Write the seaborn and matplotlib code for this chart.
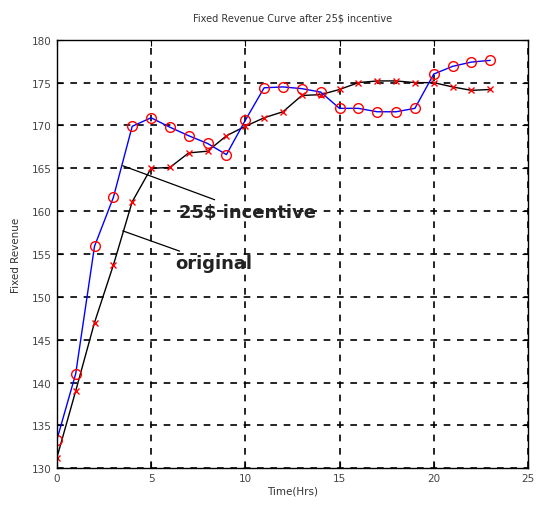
import matplotlib
matplotlib.use("Agg")
import matplotlib.pyplot as plt
import seaborn as sns
import pandas as pd

hours = list(range(24))
incentive = [133.3, 141.0, 155.9, 161.6, 169.9, 170.9, 169.8, 168.8, 167.9, 166.6,
             170.6, 174.4, 174.5, 174.3, 173.9, 172.0, 172.0, 171.6, 171.6, 172.0,
             176.0, 176.9, 177.4, 177.6]
original = [131.2, 139.0, 147.0, 153.7, 161.1, 165.0, 165.1, 166.8, 167.0, 168.8,
            169.9, 170.9, 171.6, 173.5, 173.6, 174.2, 175.0, 175.2, 175.2, 175.0,
            175.0, 174.5, 174.1, 174.2]
title = "Fixed Revenue Curve after 25$ incentive"
xlabel = "Time(Hrs)"
ylabel = "Fixed Revenue"
xticks = [0, 5, 10, 15, 20, 25]
yticks = [130, 135, 140, 145, 150, 155, 160, 165, 170, 175, 180]

df = pd.DataFrame({"hour": hours, "incentive": incentive, "original": original})

sns.set_style("white")
fig = plt.figure(figsize=(5.36, 5.10), dpi=100)
ax = fig.add_axes([0.106, 0.080, 0.879, 0.840])

sns.lineplot(data=df, x="hour", y="original", ax=ax, color="black", lw=1.0,
             marker="x", markersize=4, markeredgecolor="red", markeredgewidth=1.0)
sns.lineplot(data=df, x="hour", y="incentive", ax=ax, color="blue", lw=1.0,
             marker="o", markersize=7, markerfacecolor="none",
             markeredgecolor="red", markeredgewidth=1.0)

ax.set_xlim(0, 25)
ax.set_ylim(130, 180)
ax.set_xticks(xticks)
ax.set_yticks(yticks)
ax.grid(True, color="black", linestyle=(0, (4, 4)), linewidth=1.2)
for s in ax.spines.values():
    s.set_color("black")
    s.set_linewidth(1.0)
ax.tick_params(direction="in", length=4, labelsize=7.5, labelcolor="#444444",
               color="black", bottom=True, left=True, top=True, right=True)
ax.set_title(title, fontsize=7, color="#333333", pad=14)
ax.set_xlabel(xlabel, fontsize=7.5, color="#333333", labelpad=2)
ax.set_ylabel(ylabel, fontsize=7.5, color="#333333", labelpad=8)

ax.annotate("25$ incentive", xy=(3.5, 165.3), xytext=(6.5, 159.9),
            fontsize=13, fontweight="bold", color="#222222", va="center", ha="left",
            family="Liberation Sans Narrow",
            arrowprops=dict(arrowstyle="-", color="black", lw=0.9, shrinkA=0, shrinkB=0))
ax.annotate("original", xy=(3.5, 157.7), xytext=(6.3, 153.9),
            fontsize=13, fontweight="bold", color="#222222", va="center", ha="left",
            family="Liberation Sans Narrow",
            arrowprops=dict(arrowstyle="-", color="black", lw=0.9, shrinkA=0, shrinkB=0))

fig.savefig("out.png", dpi=100)
